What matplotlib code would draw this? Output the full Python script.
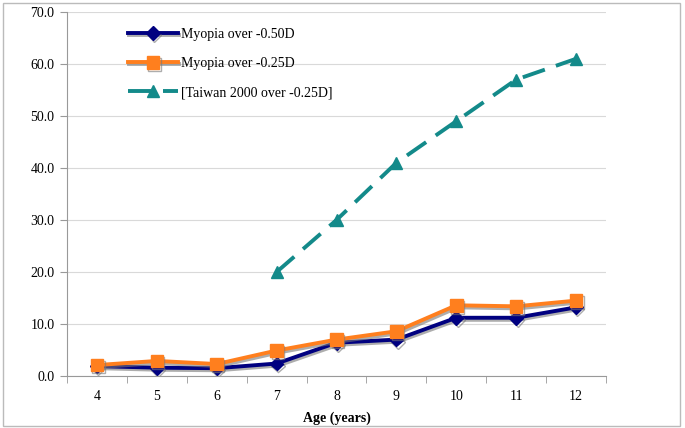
import numpy as np
import matplotlib
matplotlib.use("Agg")
from matplotlib import pyplot as plt
from matplotlib import patheffects as pe

ages = [4, 5, 6, 7, 8, 9, 10, 11, 12]
myopia_050 = [1.9, 1.6, 1.5, 2.4, 6.4, 7.0, 11.2, 11.2, 13.2]
myopia_025 = [2.1, 2.9, 2.3, 4.9, 7.0, 8.6, 13.6, 13.4, 14.5]
taiwan_ages = [7, 8, 9, 10, 11, 12]
taiwan_025 = [20.0, 30.0, 41.0, 49.0, 57.0, 61.0]
yticks = [0, 10, 20, 30, 40, 50, 60, 70]

plt.rcParams['font.family'] = ['Liberation Serif', 'DejaVu Serif']

fig = plt.figure(figsize=(6.85, 4.28), dpi=100)
ax = fig.add_axes([67 / 685, 1 - 376 / 428, (606 - 67) / 685, (376 - 12) / 428])

# figure border
fig.patches.append(plt.Rectangle((3 / 685, 2 / 428), 677 / 685, 423 / 428,
                                 transform=fig.transFigure, fill=False,
                                 edgecolor='#bbbbbb', lw=1))

x = np.arange(len(ages))
xt = [ages.index(a) for a in taiwan_ages]

shadow = [pe.SimpleLineShadow(offset=(1, -1.5), shadow_color='#777777', alpha=0.6), pe.Normal()]

ax.plot(x, myopia_050, color='#000080', lw=2.8, marker='D', ms=7,
        label='Myopia over -0.50D', path_effects=shadow)
ax.plot(x, myopia_025, color='#ff7f1e', lw=2.8, marker='s', ms=9,
        label='Myopia over -0.25D', path_effects=shadow)
ax.plot(xt, taiwan_025, color='#138a8a', lw=2.8, ls=(0, (6, 3)), marker='^', ms=9,
        label='[Taiwan 2000 over -0.25D]')

ax.set_xlim(-0.5, len(ages) - 0.5)
ax.set_ylim(0, 70)
ax.set_yticks(yticks)
ax.set_yticklabels([f'{v:.1f}' for v in yticks])
ax.set_xticks(x)
ax.set_xticklabels([str(a) for a in ages])
ax.set_xticks(np.arange(-0.5, len(ages)), minor=True)
ax.tick_params(axis='x', which='major', length=0, pad=10, labelsize=10)
ax.tick_params(axis='x', which='minor', length=5, color='#999999')
ax.tick_params(axis='y', length=5, color='#999999', labelsize=10, pad=4)
ax.grid(axis='y', color='#d9d9d9', lw=0.8)
ax.set_axisbelow(True)
for s in ['top', 'right']:
    ax.spines[s].set_visible(False)
for s in ['left', 'bottom']:
    ax.spines[s].set_color('#999999')

ax.set_xlabel('Age (years)', fontweight='bold', fontsize=10, labelpad=6)

ax.legend(loc='upper left', bbox_to_anchor=(0.09, 0.99), frameon=False,
          fontsize=10, handlelength=3.6, handletextpad=0.2, labelspacing=1.15)

fig.savefig('out.png', dpi=100)
